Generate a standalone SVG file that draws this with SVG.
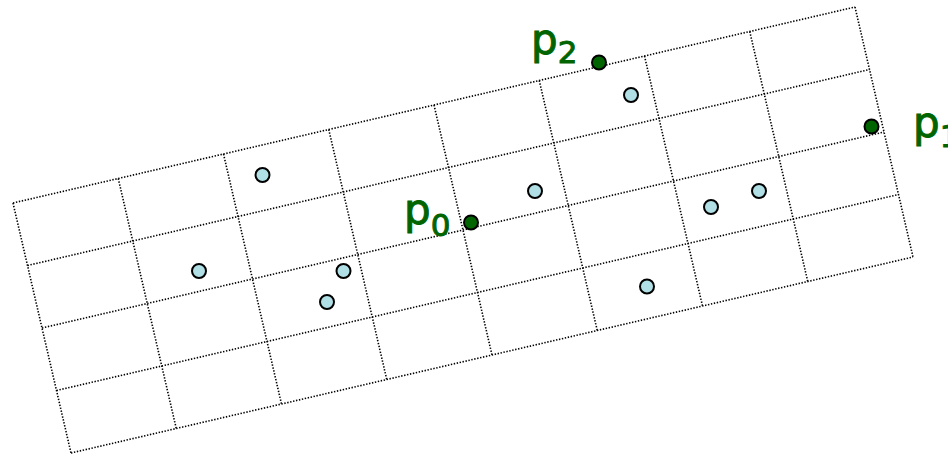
<svg xmlns="http://www.w3.org/2000/svg" width="948" height="456" viewBox="0 0 948 456">
<style>
.g{stroke:#000;stroke-width:1.6;stroke-dasharray:1.4 1.6;fill:none}
.pt{fill:#b0e0e6;stroke:#000;stroke-width:2}
.key{fill:#006400;stroke:#000;stroke-width:2}
.lbl{fill:#006400;stroke:#006400;stroke-width:1;font-family:"DejaVu Sans",sans-serif;font-size:42px}
.sub{font-size:31px}
</style>
<rect width="948" height="456" fill="#fff"/>
<g id="grid" class="g">
<line x1="13" y1="203" x2="855" y2="7"/>
<line x1="27.5" y1="265.5" x2="869.5" y2="69.5"/>
<line x1="42" y1="328" x2="884" y2="132"/>
<line x1="56.5" y1="390.5" x2="898.5" y2="194.5"/>
<line x1="71" y1="453" x2="913" y2="257"/>
<line x1="13" y1="203" x2="71" y2="453"/>
<line x1="118.25" y1="178.5" x2="176.25" y2="428.5"/>
<line x1="223.5" y1="154" x2="281.5" y2="404"/>
<line x1="328.75" y1="129.5" x2="386.75" y2="379.5"/>
<line x1="434" y1="105" x2="492" y2="355"/>
<line x1="539.25" y1="80.5" x2="597.25" y2="330.5"/>
<line x1="644.5" y1="56" x2="702.5" y2="306"/>
<line x1="749.75" y1="31.5" x2="807.75" y2="281.5"/>
<line x1="855" y1="7" x2="913" y2="257"/>
</g>
<g id="pt1"><circle class="pt" cx="262.5" cy="175" r="7"/></g>
<g id="pt2"><circle class="pt" cx="199" cy="271" r="7"/></g>
<g id="pt3"><circle class="pt" cx="343.5" cy="271" r="7"/></g>
<g id="pt4"><circle class="pt" cx="327" cy="302" r="7"/></g>
<g id="pt5"><circle class="pt" cx="535" cy="191" r="7"/></g>
<g id="pt6"><circle class="pt" cx="631" cy="95" r="7"/></g>
<g id="pt7"><circle class="pt" cx="711" cy="207" r="7"/></g>
<g id="pt8"><circle class="pt" cx="759" cy="191" r="7"/></g>
<g id="pt9"><circle class="pt" cx="647" cy="286.5" r="7"/></g>
<g id="p0"><circle class="key" cx="471" cy="222.5" r="7"/><text class="lbl" x="404" y="224">p<tspan class="sub" dy="12">0</tspan></text></g>
<g id="p2"><circle class="key" cx="599" cy="62.5" r="7"/><text class="lbl" x="531" y="54">p<tspan class="sub" dy="9">2</tspan></text></g>
<g id="p1"><circle class="key" cx="871.5" cy="126.5" r="7"/><text class="lbl" x="913" y="137">p<tspan class="sub" dy="10">1</tspan></text></g>
</svg>
